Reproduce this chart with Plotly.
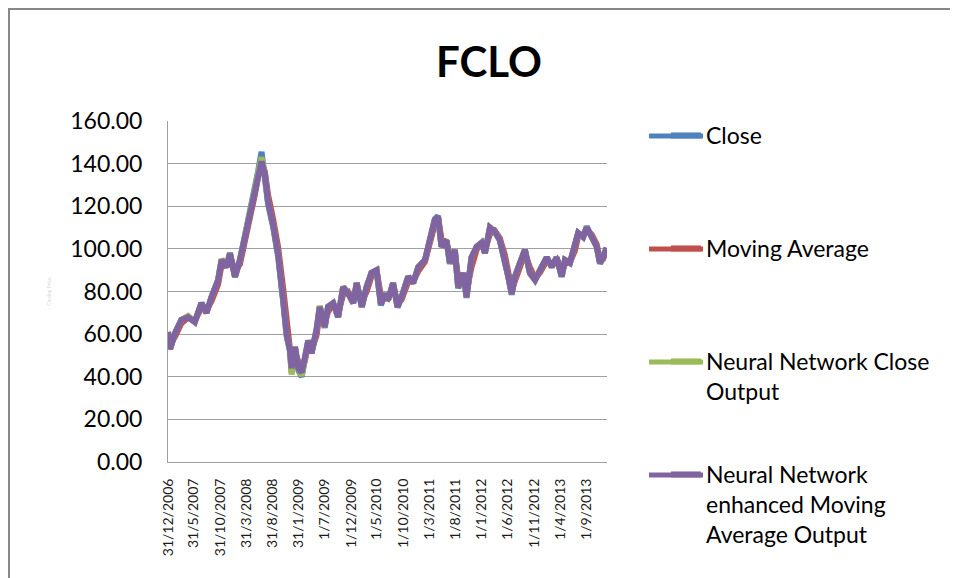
import plotly.graph_objects as go

# ---------------- data ----------------
dates = [
    "2006-12-31", "2007-01-12", "2007-02-10", "2007-03-19", "2007-04-27", "2007-06-05",
    "2007-07-14", "2007-08-12", "2007-09-11", "2007-10-19", "2007-11-08", "2007-12-07",
    "2007-12-27", "2008-01-25", "2008-02-23", "2008-03-22", "2008-04-21", "2008-05-20",
    "2008-06-08", "2008-06-28", "2008-07-17", "2008-08-05", "2008-09-04", "2008-10-03",
    "2008-11-01", "2008-11-21", "2008-12-10", "2008-12-20", "2009-01-09", "2009-01-28",
    "2009-02-17", "2009-03-07", "2009-03-27", "2009-04-15", "2009-05-14", "2009-06-02",
    "2009-07-01", "2009-07-20", "2009-08-19", "2009-09-17", "2009-10-16", "2009-11-15",
    "2009-12-14", "2010-01-03", "2010-02-02", "2010-03-01", "2010-03-30", "2010-04-29",
    "2010-05-24", "2010-06-16", "2010-07-05", "2010-08-03", "2010-08-29", "2010-09-22",
    "2010-10-30", "2010-11-28", "2010-12-28", "2011-02-05", "2011-03-05", "2011-04-03",
    "2011-04-22", "2011-05-12", "2011-06-10", "2011-06-30", "2011-07-29", "2011-08-17",
    "2011-09-16", "2011-10-05", "2011-11-03", "2011-12-03", "2012-01-01", "2012-01-20",
    "2012-02-18", "2012-03-18", "2012-04-16", "2012-05-15", "2012-06-04", "2012-06-24",
    "2012-07-13", "2012-08-11", "2012-09-09", "2012-10-08", "2012-11-07", "2012-12-06",
    "2013-01-14", "2013-02-12", "2013-03-13", "2013-04-11", "2013-04-30", "2013-05-29",
    "2013-06-27", "2013-07-16", "2013-08-14", "2013-09-04", "2013-10-03", "2013-11-01",
    "2013-11-20", "2013-12-09", "2013-12-29",
]

close = [
    61, 53, 60.5, 66.7, 68, 65.7, 74.6, 70, 77.5, 85.4, 94.8, 91.5,
    98, 86.9, 94.8, 105.6, 115, 129, 136.5, 145.5, 135, 121, 110, 96,
    75, 59, 52, 42, 54, 43, 40, 49, 57, 51, 62, 73,
    63, 73, 74.6, 68, 82, 79, 74.6, 84, 72.8, 82, 88.7, 90,
    73.5, 79, 76, 84, 72.5, 77.5, 87, 84, 91.5, 94.8, 105.6, 114,
    115.5, 101, 104, 93, 99.5, 81.5, 88.7, 77, 96, 101, 103, 98,
    110, 108, 104, 94.8, 87, 78.5, 87, 93.4, 99.5, 88.7, 85.4, 90,
    96, 91.5, 96, 87, 94.8, 93.4, 101, 107.5, 105.6, 110.5, 105.6, 101,
    93, 96, 100.5,
]

moving_average = [
    61, 55, 58.8, 65.1, 67.7, 66.3, 72.3, 71.2, 75.6, 83.4, 92.4, 92.3,
    96.4, 89.7, 92.8, 102.9, 112.7, 125.5, 134, 139.7, 136.5, 125.3, 113.8, 100.5,
    81.3, 64, 54.5, 46.2, 51.5, 46.5, 42.5, 47.5, 55, 52.5, 59.3, 70.1,
    65.7, 70.4, 74.2, 69.7, 78.5, 79.8, 75.7, 81.7, 75.6, 79.7, 87, 89.7,
    78, 77.8, 76.8, 82, 75.6, 76.3, 84.6, 84.8, 89.6, 94, 102.9, 111.6,
    114.7, 104.5, 103.3, 96, 98, 86.4, 87, 80.3, 91.4, 99.8, 102.4, 99.2,
    107, 108.5, 105, 97.1, 89, 81, 85, 91.8, 98, 91.4, 86.2, 88.9,
    94.5, 92.6, 94.9, 89.3, 92.9, 93.8, 99.1, 105.9, 106.1, 108.9, 106.7, 102.2,
    95.3, 95.4, 99.4,
]

nn_close = [
    61, 53, 60.5, 66.7, 68.5, 65.7, 74.6, 70, 77.5, 85.6, 95.2, 91.5,
    98, 86.9, 94.8, 105.6, 115, 129.5, 136, 143, 135, 122, 111, 97,
    76, 60, 52.6, 41, 54, 44, 40.5, 49.3, 57, 51, 62, 73.2,
    63.4, 72.8, 74.6, 68, 82.4, 79, 74.6, 84, 72.8, 82, 88.7, 90,
    74, 79, 76, 84, 72.8, 77.5, 87, 84, 91.5, 94.8, 105.6, 113.6,
    115, 101, 104, 93.4, 99.8, 82, 88.7, 77.5, 96, 101, 102.8, 98,
    110, 108, 104, 94.8, 87, 79, 87, 93.4, 99.5, 88.7, 85.4, 90,
    96, 91.5, 96, 87, 94.8, 93.4, 101, 107.5, 105.6, 110, 105.6, 101,
    93.4, 96, 100.5,
]

nn_enhanced_ma = [
    61, 53, 60.5, 66.7, 68, 65.7, 74.6, 70, 77.5, 85.4, 94.8, 91.5,
    98, 86.9, 94.8, 105.6, 115, 129, 135.7, 141, 135, 122, 111, 97,
    76, 60, 52.6, 44, 54, 44, 42, 49.3, 57, 51, 62, 72.8,
    63.4, 72.8, 74.6, 68, 82, 79, 74.6, 84, 72.8, 82, 88.7, 90,
    74, 79, 76, 84, 72.8, 77.5, 87, 84, 91.5, 94.8, 105.6, 113.6,
    115, 101, 104, 93.4, 99.5, 82, 88.7, 77.5, 96, 101, 102.8, 98,
    110, 108, 104, 94.8, 87, 79, 87, 93.4, 99.5, 88.7, 85.4, 90,
    96, 91.5, 96, 87, 94.8, 93.4, 101, 107.5, 105.6, 110, 105.6, 101,
    93.4, 96, 100.5,
]

tick_dates = [
    "2006-12-31", "2007-05-31", "2007-10-31", "2008-03-31", "2008-08-31", "2009-01-31",
    "2009-07-01", "2009-12-01", "2010-05-01", "2010-10-01", "2011-03-01", "2011-08-01",
    "2012-01-01", "2012-06-01", "2012-11-01", "2013-04-01", "2013-09-01",
]
tick_labels = [
    "31/12/2006", "31/5/2007", "31/10/2007", "31/3/2008", "31/8/2008", "31/1/2009",
    "1/7/2009", "1/12/2009", "1/5/2010", "1/10/2010", "1/3/2011", "1/8/2011",
    "1/1/2012", "1/6/2012", "1/11/2012", "1/4/2013", "1/9/2013",
]

series_names = [
    "Close",
    "Moving Average",
    "Neural Network Close<br>Output",
    "Neural Network<br>enhanced Moving<br>Average Output",
]
series_values = [close, moving_average, nn_close, nn_enhanced_ma]
series_colors = ["#4F81BD", "#C0504D", "#9BBB59", "#8064A2"]

FONT = "Lato"

# The page body has an 8px margin, so figure coordinates = page coordinates - 8.
OFF = 8
W, H = 958 - OFF, 578 - OFF
# plot area in page pixels: left 168, right 607, top 121, bottom 462
L, R, T, B = 168 - OFF, 607 - OFF, 121 - OFF, 462 - OFF
pw, ph = R - L, B - T


def px_x(page_x):
    return (page_x - OFF - L) / pw


def px_y(page_y):
    return (B - (page_y - OFF)) / ph


# ---------------- figure ----------------
fig = go.Figure()
legend_ids = ["legend", "legend2", "legend3", "legend4"]
for name, vals, col, lid in zip(series_names, series_values, series_colors, legend_ids):
    fig.add_trace(go.Scatter(
        x=dates, y=vals, mode="lines", name=name,
        line=dict(color=col, width=6),
        legend=lid,
    ))

legend_tops = [114, 227, 340, 453]     # page px
legend_keys_y = [136, 249, 362, 475]    # page px, centre of the key lines
legend_common = dict(
    x=px_x(666), xanchor="left", yanchor="top",
    font=dict(family=FONT, size=23, color="#000000"),
    bgcolor="rgba(0,0,0,0)", borderwidth=0, valign="top",
    itemwidth=30,
)
layout_legends = {}
for lid, top in zip(legend_ids, legend_tops):
    layout_legends[lid] = dict(y=px_y(top), **legend_common)

fig.update_layout(
    width=W, height=H,
    margin=dict(l=L, r=W - R, t=T, b=H - B, autoexpand=False),
    paper_bgcolor="white", plot_bgcolor="white",
    font=dict(family=FONT, color="#000000"),
    title=dict(text="<b>FCLO</b>", xref="container", x=(489 - OFF) / W, xanchor="center",
               yref="container", y=1 - (62 - OFF) / H, yanchor="middle",
               font=dict(family=FONT, size=42, color="#000000")),
    showlegend=True,
    **layout_legends,
)

fig.update_xaxes(
    type="date",
    range=["2006-12-31", "2013-12-31"],
    tickmode="array", tickvals=tick_dates, ticktext=tick_labels,
    tickangle=-90, ticklabelstandoff=10,
    tickfont=dict(family=FONT, size=14, color="#1a1a1a"),
    showgrid=False, zeroline=False,
    showline=True, linecolor="#A0A0A0", linewidth=1,
    ticks="",
)
fig.update_yaxes(
    range=[0, 160], dtick=20, tick0=0, tickformat=".2f",
    tickfont=dict(family=FONT, size=23, color="#000000"),
    ticklabelstandoff=20,
    showgrid=True, gridcolor="#A0A0A0", gridwidth=1,
    zeroline=False,
    showline=True, linecolor="#A0A0A0", linewidth=1,
    ticks="",
    title=dict(text="Closing Price", standoff=18,
               font=dict(family=FONT, size=5, color="#D8D8D8")),
)

# longer legend key lines (the reference keys are ~55px long)
for col, ky in zip(series_colors, legend_keys_y):
    fig.add_shape(type="line", xref="paper", yref="paper",
                  x0=px_x(649), x1=px_x(703), y0=px_y(ky), y1=px_y(ky),
                  line=dict(color=col, width=5))

# outer chart frame (top and left edges visible in the reference)
frame = dict(color="#888888", width=2)
fig.add_shape(type="line", xref="paper", yref="paper",
              x0=px_x(8), x1=px_x(960), y0=px_y(9), y1=px_y(9), line=frame)
fig.add_shape(type="line", xref="paper", yref="paper",
              x0=px_x(9), x1=px_x(9), y0=px_y(9), y1=px_y(580), line=frame)

fig.write_html("out.html")
